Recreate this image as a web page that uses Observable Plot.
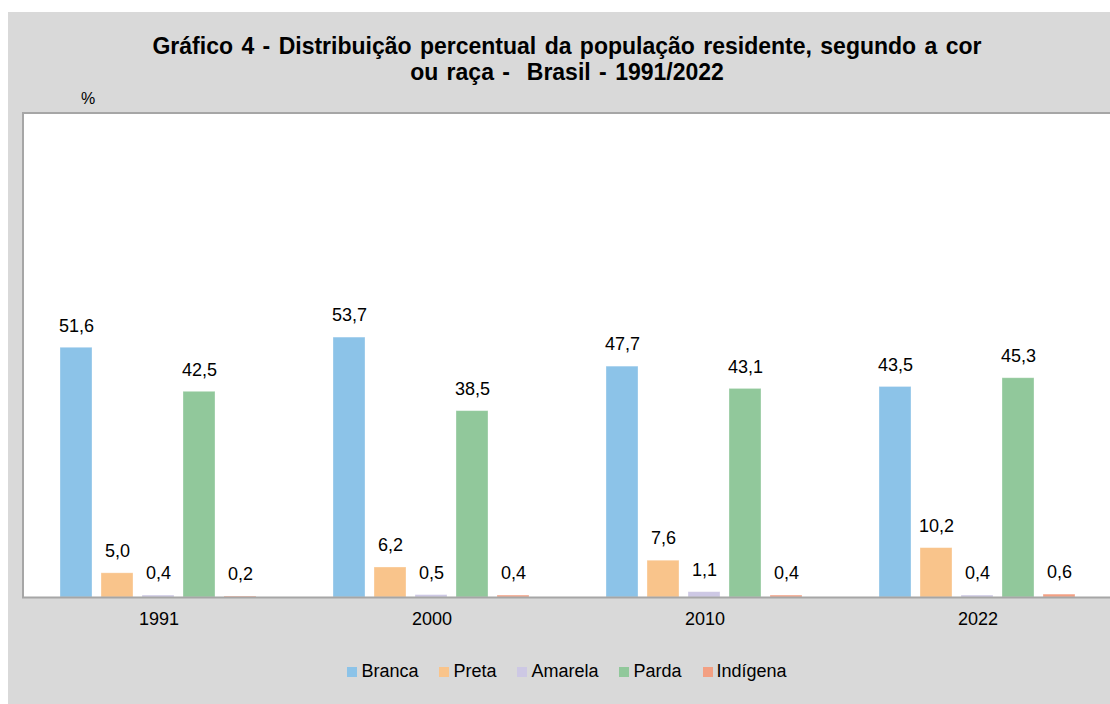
<!DOCTYPE html>
<html>
<head>
<meta charset="utf-8">
<script src="https://cdn.jsdelivr.net/npm/d3@7"></script>
<script src="https://cdn.jsdelivr.net/npm/@observablehq/plot@0.6"></script>
<style>
  html, body { margin: 0; padding: 0; background: #fff; width: 1110px; height: 704px; overflow: hidden; font-family: "Liberation Sans", Arial, sans-serif; }
  #frame { position: absolute; left: 8px; top: 12px; width: 1102px; height: 692px; background: #d9d9d9; }
  #title { position: absolute; left: 0; top: 33px; width: 1134px; text-align: center; font-weight: bold; font-size: 23px; line-height: 26px; word-spacing: 2px; color: #000; white-space: pre; }
  #pct { position: absolute; left: 81px; top: 90px; font-size: 16px; color: #000; }
  #plotbg { position: absolute; left: 22px; top: 112px; width: 1088px; height: 485px; background: #fff; border-top: 2px solid #a6a6a6; border-left: 2px solid #a6a6a6; box-sizing: border-box; }
  #chart { position: absolute; left: 0; top: 100px; }
  #legend { position: absolute; left: 0; top: 661px; width: 1134px; display: flex; justify-content: center; gap: 21px; font-size: 18px; color: #000; }
  .item { display: flex; align-items: center; }
  .sw { width: 10px; height: 10px; margin-right: 4px; }
</style>
</head>
<body>
<div id="frame"></div>
<div id="title">Gráfico 4 - Distribuição percentual da população residente, segundo a cor
ou raça -  Brasil - 1991/2022</div>
<div id="pct">%</div>
<div id="plotbg"></div>
<div id="chart"></div>
<div id="legend"></div>
<script>
const years = ["1991", "2000", "2010", "2022"];
const races = ["Branca", "Preta", "Amarela", "Parda", "Indígena"];
const colors = ["#8cc3e8", "#f9c48b", "#cdc8e4", "#91c89b", "#f3a083"];
const branca = [51.6, 53.7, 47.7, 43.5];
const preta = [5.0, 6.2, 7.6, 10.2];
const amarela = [0.4, 0.5, 1.1, 0.4];
const parda = [42.5, 38.5, 43.1, 45.3];
const indigena = [0.2, 0.4, 0.4, 0.6];
const yTicks = [0, 100];

const series = [branca, preta, amarela, parda, indigena];
const data = [];
years.forEach((y, i) => races.forEach((r, j) => data.push({year: y, race: r, value: series[j][i]})));
const fmt = v => v.toFixed(1).replace(".", ",");

const chart = Plot.plot({
  width: 1110,
  height: 560,
  marginLeft: 22,
  marginRight: -4,
  marginTop: 13,
  marginBottom: 63,
  style: {background: "transparent", fontFamily: "Liberation Sans, Arial, sans-serif"},
  fx: {domain: years, padding: 0, label: null},
  x: {domain: races, paddingInner: 0.21, paddingOuter: 0.9, axis: null},
  y: {domain: yTicks, axis: null},
  color: {domain: races, range: colors},
  marks: [
    Plot.barY(data, {fx: "year", x: "race", y: "value", fill: "race", stroke: "#ffffff", strokeOpacity: 0.4, strokeWidth: 0.8}),
    Plot.text(data, {fx: "year", x: "race", y: "value", text: d => fmt(d.value), dy: -22, fontSize: 18, fill: "#000"}),
    Plot.ruleY([0], {stroke: "#a6a6a6", strokeWidth: 2}),
    Plot.axisFx({anchor: "bottom", tickSize: 0, tickPadding: 15, fontSize: 18, color: "#000", label: null})
  ]
});
document.getElementById("chart").appendChild(chart);

const legend = document.getElementById("legend");
races.forEach((r, i) => {
  const it = document.createElement("div");
  it.className = "item";
  const sw = document.createElement("div");
  sw.className = "sw";
  sw.style.background = colors[i];
  const t = document.createElement("span");
  t.textContent = r;
  it.appendChild(sw); it.appendChild(t);
  legend.appendChild(it);
});
</script>
</body>
</html>
